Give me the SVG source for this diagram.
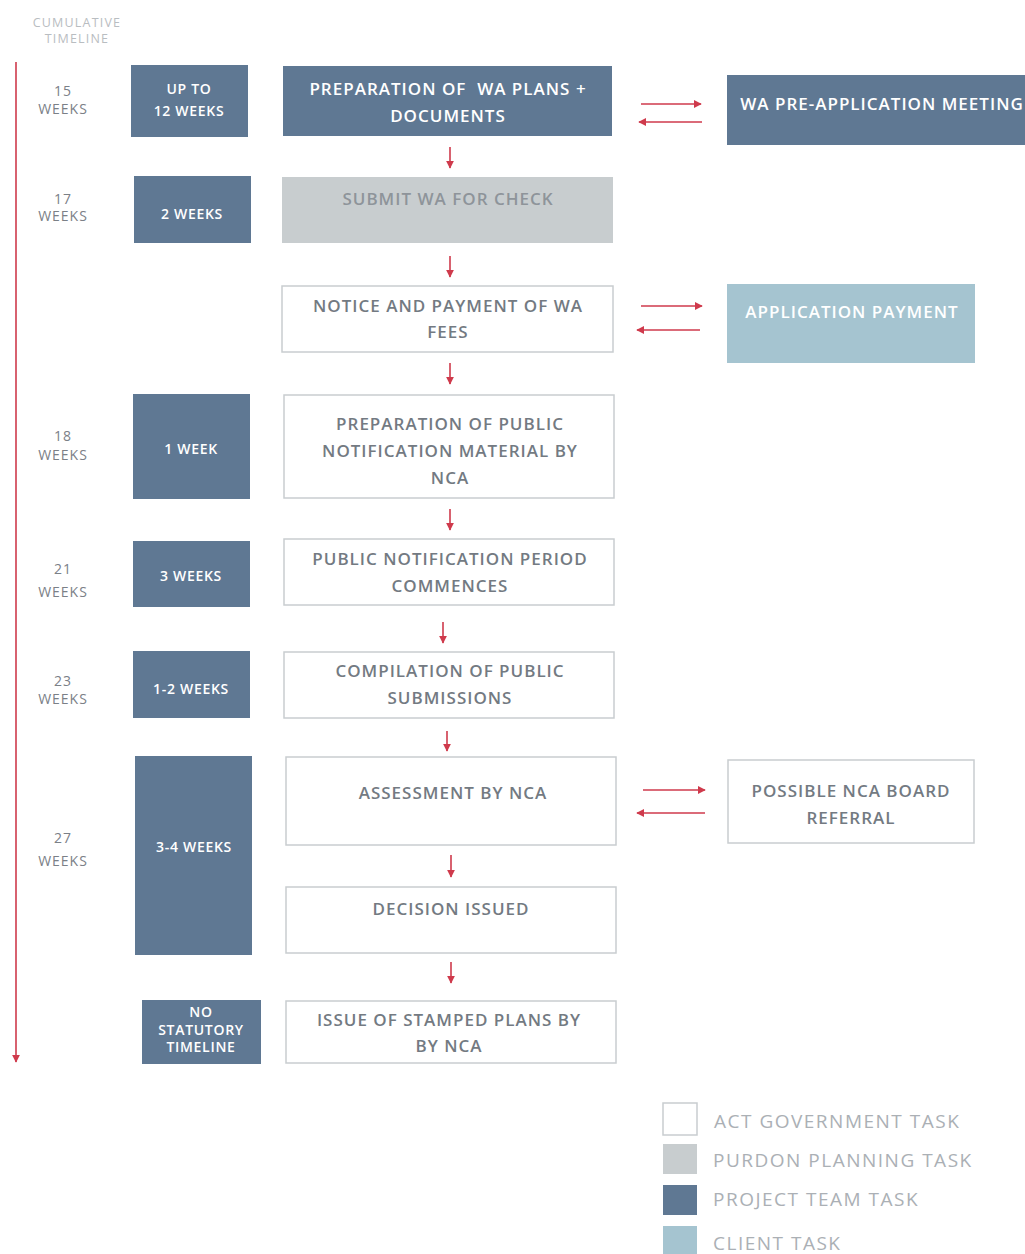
<svg xmlns="http://www.w3.org/2000/svg" width="1025" height="1254" viewBox="0 0 1025 1254">
<style>
.bg{fill:#ffffff}
.dark{fill:#5f7893}
.purdon{fill:#c8cdcf}
.client{fill:#a5c4d0}
.gov{fill:#ffffff;stroke:#c9cdd0;stroke-width:1.5}
text{font-family:"Open Sans","Noto Sans","Liberation Sans",sans-serif;text-anchor:middle;dominant-baseline:central}
.t{font-size:17px;font-weight:600;fill:#737a82;letter-spacing:1px}
.tw{font-size:17px;font-weight:600;fill:#ffffff;letter-spacing:1px}
.ts{font-size:14px;font-weight:600;fill:#ffffff;letter-spacing:0.7px}
.wk{font-size:14px;fill:#7b8087;letter-spacing:1px}
.hd{font-size:12.5px;fill:#b9bdc1;letter-spacing:1.2px}
.tp{font-size:17px;font-weight:600;fill:#8e949a;letter-spacing:1px}
.lg{font-size:19px;fill:#abb0b5;text-anchor:start;letter-spacing:1.5px}
.conn line{stroke:#cf3a4c;stroke-width:1.6;fill:none}
</style>
<defs>
<marker id="ah" viewBox="0 0 10 10" refX="9" refY="5" markerWidth="5" markerHeight="5" orient="auto-start-reverse" markerUnits="strokeWidth">
<path d="M0,0 L10,5 L0,10 z" fill="#cf3a4c"/>
</marker>
</defs>
<rect class="bg" x="0" y="0" width="1025" height="1254"/>

<g id="header">
<text class="hd" x="77" y="22">CUMULATIVE</text>
<text class="hd" x="77" y="38">TIMELINE</text>
</g>

<g id="week-labels">
<text class="wk" x="63" y="90">15</text><text class="wk" x="63" y="108">WEEKS</text>
<text class="wk" x="63" y="198">17</text><text class="wk" x="63" y="215">WEEKS</text>
<text class="wk" x="63" y="435">18</text><text class="wk" x="63" y="454">WEEKS</text>
<text class="wk" x="63" y="568">21</text><text class="wk" x="63" y="591">WEEKS</text>
<text class="wk" x="63" y="680">23</text><text class="wk" x="63" y="698">WEEKS</text>
<text class="wk" x="63" y="837">27</text><text class="wk" x="63" y="860">WEEKS</text>
</g>

<g id="dur1"><rect class="dark" x="131" y="65" width="117" height="72"/><text class="ts" x="189" y="88">UP TO</text><text class="ts" x="189" y="110">12 WEEKS</text></g>
<g id="dur2"><rect class="dark" x="134" y="176" width="117" height="67"/><text class="ts" x="192" y="213">2 WEEKS</text></g>
<g id="dur3"><rect class="dark" x="133" y="394" width="117" height="105"/><text class="ts" x="191" y="448">1 WEEK</text></g>
<g id="dur4"><rect class="dark" x="133" y="541" width="117" height="66"/><text class="ts" x="191" y="575">3 WEEKS</text></g>
<g id="dur5"><rect class="dark" x="133" y="651" width="117" height="67"/><text class="ts" x="191" y="688">1-2 WEEKS</text></g>
<g id="dur6"><rect class="dark" x="135" y="756" width="117" height="199"/><text class="ts" x="194" y="846">3-4 WEEKS</text></g>
<g id="dur7"><rect class="dark" x="142" y="1000" width="119" height="64"/><text class="ts" x="201" y="1011">NO</text><text class="ts" x="201" y="1029">STATUTORY</text><text class="ts" x="201" y="1046">TIMELINE</text></g>

<g id="prep-wa"><rect class="dark" x="283" y="66" width="329" height="70"/><text class="tw" x="448" y="88" xml:space="preserve">PREPARATION OF  WA PLANS +</text><text class="tw" x="448" y="115">DOCUMENTS</text></g>
<g id="submit-wa"><rect class="purdon" x="282" y="177" width="331" height="66"/><text class="tp" x="448" y="198">SUBMIT WA FOR CHECK</text></g>
<g id="notice-fees"><rect class="gov" x="282" y="286" width="331" height="66"/><text class="t" x="448" y="305">NOTICE AND PAYMENT OF WA</text><text class="t" x="448" y="331">FEES</text></g>
<g id="prep-public"><rect class="gov" x="284" y="395" width="330" height="103"/><text class="t" x="450" y="423">PREPARATION OF PUBLIC</text><text class="t" x="450" y="450">NOTIFICATION MATERIAL BY</text><text class="t" x="450" y="477">NCA</text></g>
<g id="public-period"><rect class="gov" x="284" y="539" width="330" height="66"/><text class="t" x="450" y="558">PUBLIC NOTIFICATION PERIOD</text><text class="t" x="450" y="585">COMMENCES</text></g>
<g id="compilation"><rect class="gov" x="284" y="652" width="330" height="66"/><text class="t" x="450" y="670">COMPILATION OF PUBLIC</text><text class="t" x="450" y="697">SUBMISSIONS</text></g>
<g id="assessment"><rect class="gov" x="286" y="757" width="330" height="88"/><text class="t" x="453" y="792">ASSESSMENT BY NCA</text></g>
<g id="decision"><rect class="gov" x="286" y="887" width="330" height="66"/><text class="t" x="451" y="908">DECISION ISSUED</text></g>
<g id="stamped"><rect class="gov" x="286" y="1001" width="330" height="62"/><text class="t" x="449" y="1019">ISSUE OF STAMPED PLANS BY</text><text class="t" x="449" y="1045">BY NCA</text></g>

<g id="pre-app"><rect class="dark" x="727" y="75" width="300" height="70"/><text class="tw" x="882" y="103">WA PRE-APPLICATION MEETING</text></g>
<g id="app-payment"><rect class="client" x="727" y="284" width="248" height="79"/><text class="tw" x="852" y="311">APPLICATION PAYMENT</text></g>
<g id="board-referral"><rect class="gov" x="728" y="760" width="246" height="83"/><text class="t" x="851" y="790">POSSIBLE NCA BOARD</text><text class="t" x="851" y="817">REFERRAL</text></g>

<g id="connectors" class="conn">
<line x1="16" y1="62" x2="16" y2="1062" marker-end="url(#ah)"/>
<line x1="641" y1="104" x2="701" y2="104" marker-end="url(#ah)"/>
<line x1="702" y1="122" x2="639" y2="122" marker-end="url(#ah)"/>
<line x1="641" y1="306" x2="702" y2="306" marker-end="url(#ah)"/>
<line x1="700" y1="330" x2="637" y2="330" marker-end="url(#ah)"/>
<line x1="643" y1="790" x2="705" y2="790" marker-end="url(#ah)"/>
<line x1="705" y1="813" x2="637" y2="813" marker-end="url(#ah)"/>
<line x1="450" y1="147" x2="450" y2="168" marker-end="url(#ah)"/>
<line x1="450" y1="256" x2="450" y2="277" marker-end="url(#ah)"/>
<line x1="450" y1="363" x2="450" y2="384" marker-end="url(#ah)"/>
<line x1="450" y1="509" x2="450" y2="530" marker-end="url(#ah)"/>
<line x1="443" y1="622" x2="443" y2="643" marker-end="url(#ah)"/>
<line x1="447" y1="731" x2="447" y2="751" marker-end="url(#ah)"/>
<line x1="451" y1="855" x2="451" y2="877" marker-end="url(#ah)"/>
<line x1="451" y1="962" x2="451" y2="983" marker-end="url(#ah)"/>
</g>

<g id="legend">
<rect class="gov" x="663" y="1103" width="34" height="32"/>
<rect class="purdon" x="663" y="1144" width="34" height="30"/>
<rect class="dark" x="663" y="1185" width="34" height="30"/>
<rect class="client" x="663" y="1226" width="34" height="28"/>
<text class="lg" x="714" y="1121">ACT GOVERNMENT TASK</text>
<text class="lg" x="713" y="1160">PURDON PLANNING TASK</text>
<text class="lg" x="713" y="1199">PROJECT TEAM TASK</text>
<text class="lg" x="713" y="1243">CLIENT TASK</text>
</g>
</svg>
